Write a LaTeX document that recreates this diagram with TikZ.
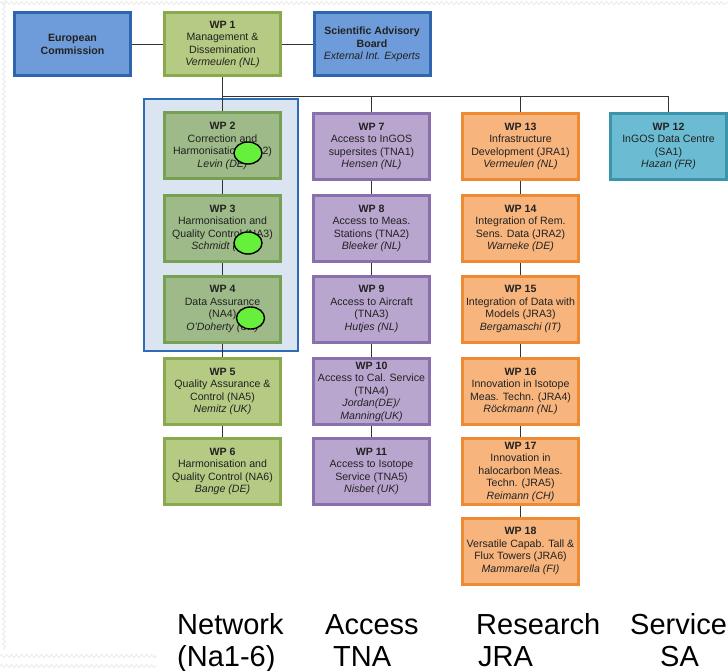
\documentclass[tikz,border=0pt]{standalone}
\usepackage{fontspec}
\setmainfont{Liberation Sans}
\usetikzlibrary{backgrounds,decorations.pathmorphing,shapes.geometric}

\definecolor{ecfill}{HTML}{6E9BD9}
\definecolor{ecline}{HTML}{2F65AE}
\definecolor{mgmtfill}{HTML}{B5CA83}
\definecolor{mgmtline}{HTML}{88AA4C}
\definecolor{nafill}{HTML}{9DBA88}
\definecolor{naline}{HTML}{76A052}
\definecolor{netfill}{HTML}{DAE5F1}
\definecolor{netline}{HTML}{2E6DB5}
\definecolor{tnafill}{HTML}{B9A6CF}
\definecolor{tnaline}{HTML}{8A6FAE}
\definecolor{jrafill}{HTML}{F7B47D}
\definecolor{jraline}{HTML}{EE8A33}
\definecolor{safill}{HTML}{6BBCD2}
\definecolor{saline}{HTML}{3B93AC}
\definecolor{markfill}{HTML}{66F03C}
\definecolor{txt}{HTML}{222222}

\tikzset{
  wpbox/.style={rectangle, draw, line width=3pt, minimum width=116pt,
    minimum height=66pt, inner sep=1pt, align=center, text=txt,
    font=\fontsize{10.6}{12.5}\selectfont},
  topbox/.style={wpbox, minimum height=63pt},
  bluebox/.style={topbox, fill=ecfill, draw=ecline},
  mgmtbox/.style={topbox, fill=mgmtfill, draw=mgmtline},
  nabox/.style={wpbox, fill=nafill, draw=naline},
  na2box/.style={wpbox, fill=mgmtfill, draw=mgmtline},
  tnabox/.style={wpbox, fill=tnafill, draw=tnaline},
  jrabox/.style={wpbox, fill=jrafill, draw=jraline},
  sabox/.style={wpbox, fill=safill, draw=saline},
  netgroup/.style={rectangle, draw=netline, fill=netfill, line width=2pt,
    minimum width=154pt, minimum height=252pt, inner sep=0pt},
  link/.style={draw=black!80, line width=1pt},
  marker/.style={ellipse, draw=black, fill=markfill, line width=1.4pt,
    minimum width=28pt, minimum height=22pt, inner sep=0pt},
  deco/.style={draw=black!7, line width=1pt,
    decorate, decoration={snake, amplitude=1.6pt, segment length=5pt}},
  colhead/.style={anchor=base west, inner sep=0pt, text=black,
    font=\fontsize{29}{33}\selectfont}
}

\begin{document}
\begin{tikzpicture}[x=1pt, y=-1pt]
\useasboundingbox (0,0) rectangle (728,671);

% faint slide border pattern
\draw[deco] (0,3) -- (728,3);
\draw[deco] (4,0) -- (4,650);
\draw[deco] (0,656) -- (157,656);
\draw[deco] (0,666) -- (157,666);

% top row
\node[bluebox] (ec) at (72.5,44.5) {\textbf{European}\\\textbf{Commission}};
\node[mgmtbox] (wp1) at (222.5,44.5) {\textbf{WP 1}\\Management \&\\Dissemination\\\textit{Vermeulen (NL)}};
\node[bluebox] (sab) at (372,44.5) {\textbf{Scientific Advisory}\\\textbf{Board}\\\textit{External Int. Experts}};

% networking activities group
\begin{scope}[on background layer]
  \node[netgroup] (net) at (221,225) {};
\end{scope}

% column 1: networking
\node[nabox] (wp2) at (222.5,146) {\textbf{WP 2}\\Correction and\\Harmonisation (NA2)\\\textit{Levin (DE)}};
\node[nabox] (wp3) at (222.5,228.5) {\textbf{WP 3}\\Harmonisation and\\Quality Control (NA3)\\\textit{Schmidt (FR)}};
\node[nabox] (wp4) at (222.5,309) {\textbf{WP 4}\\Data Assurance\\(NA4)\\\textit{O'Doherty (UK)}};
\node[na2box] (wp5) at (222.5,391.5) {\textbf{WP 5}\\Quality Assurance \&\\Control (NA5)\\\textit{Nemitz (UK)}};
\node[na2box] (wp6) at (222.5,471.5) {\textbf{WP 6}\\Harmonisation and\\Quality Control (NA6)\\\textit{Bange (DE)}};

% column 2: transnational access
\node[tnabox] (wp7) at (371.5,146.5) {\textbf{WP 7}\\Access to InGOS\\supersites (TNA1)\\\textit{Hensen (NL)}};
\node[tnabox] (wp8) at (371.5,228.5) {\textbf{WP 8}\\Access to Meas.\\Stations (TNA2)\\\textit{Bleeker (NL)}};
\node[tnabox] (wp9) at (371.5,309) {\textbf{WP 9}\\Access to Aircraft\\(TNA3)\\\textit{Hutjes (NL)}};
\node[tnabox] (wp10) at (371.5,391.5) {\textbf{WP 10}\\Access to Cal. Service\\(TNA4)\\\textit{Jordan(DE)/}\\\textit{Manning(UK)}};
\node[tnabox] (wp11) at (371.5,471.5) {\textbf{WP 11}\\Access to Isotope\\Service (TNA5)\\\textit{Nisbet (UK)}};

% column 3: joint research
\node[jrabox] (wp13) at (520.5,146.5) {\textbf{WP 13}\\Infrastructure\\Development (JRA1)\\\textit{Vermeulen (NL)}};
\node[jrabox] (wp14) at (520.5,228.5) {\textbf{WP 14}\\Integration of Rem.\\Sens. Data (JRA2)\\\textit{Warneke (DE)}};
\node[jrabox] (wp15) at (520.5,309) {\textbf{WP 15}\\Integration of Data with\\Models (JRA3)\\\textit{Bergamaschi (IT)}};
\node[jrabox] (wp16) at (520.5,391.5) {\textbf{WP 16}\\Innovation in Isotope\\Meas. Techn. (JRA4)\\\textit{Röckmann (NL)}};
\node[jrabox] (wp17) at (520.5,471.5) {\textbf{WP 17}\\Innovation in\\halocarbon Meas.\\Techn. (JRA5)\\\textit{Reimann (CH)}};
\node[jrabox] (wp18) at (520.5,551) {\textbf{WP 18}\\Versatile Capab. Tall \&\\Flux Towers (JRA6)\\\textit{Mammarella (FI)}};

% column 4: service
\node[sabox] (wp12) at (668.5,146.5) {\textbf{WP 12}\\InGOS Data Centre\\(SA1)\\\textit{Hazan (FR)}};

% connectors
\coordinate (bus) at (222.5,97);
\draw[link] (ec) -- (wp1);
\draw[link] (wp1) -- (sab);
\draw[link] (wp1.south) -- (wp2.north);
\draw[link] (wp2) -- (wp3);
\draw[link] (wp3) -- (wp4);
\draw[link] (wp4) -- (wp5);
\draw[link] (wp5) -- (wp6);
\draw[link] (bus) -| (wp7.north);
\draw[link] (bus) -| (wp13.north);
\draw[link] (bus) -| (wp12.north);
\draw[link] (wp7) -- (wp8);
\draw[link] (wp8) -- (wp9);
\draw[link] (wp9) -- (wp10);
\draw[link] (wp10) -- (wp11);
\draw[link] (wp13) -- (wp14);
\draw[link] (wp14) -- (wp15);
\draw[link] (wp15) -- (wp16);
\draw[link] (wp16) -- (wp17);
\draw[link] (wp17) -- (wp18);

% green markers
\node[marker] (m2) at (248,153) {};
\node[marker] (m3) at (248,243) {};
\node[marker] (m4) at (250.5,318) {};

% column headings
\node[colhead] (hna) at (177,634) {Network};
\node[colhead] (hna2) at (177,666) {(Na1-6)};
\node[colhead] (htna) at (325,634) {Access};
\node[colhead] (htna2) at (333,666) {TNA};
\node[colhead] (hjra) at (476,634) {Research};
\node[colhead] (hjra2) at (478,666) {JRA};
\node[colhead] (hsa) at (630,634) {Service};
\node[colhead] (hsa2) at (660,666) {SA};
\end{tikzpicture}
\end{document}
